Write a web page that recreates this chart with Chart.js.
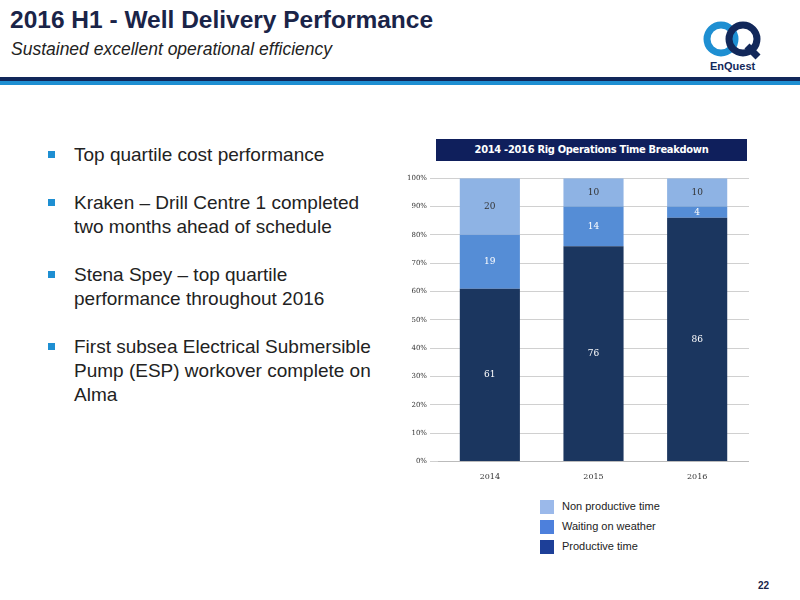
<!DOCTYPE html>
<html>
<head>
<meta charset="utf-8">
<script src="https://cdn.jsdelivr.net/npm/chart.js@4"></script>
<style>
  body { margin: 0; width: 800px; height: 600px; position: relative; background: #fff; font-family: "Liberation Sans", Arial, sans-serif; overflow: hidden; }
  .abs { position: absolute; }
  h1 { position: absolute; left: 10px; top: 6px; margin: 0; font-size: 24.5px; font-weight: bold; color: #1a2448; }
  .sub { left: 11px; top: 39px; font-size: 17.5px; font-style: italic; color: #222; }
  .bar1 { left: 0; top: 77px; width: 800px; height: 4px; background: #12285a; }
  .bar2 { left: 0; top: 81px; width: 800px; height: 4px; background: #1e8fd2; }
  ul { position: absolute; left: 48px; top: 143px; margin: 0; padding: 0; list-style: none; font-size: 19px; color: #222; width: 335px; }
  li { position: relative; margin-bottom: 24px; line-height: 24px; padding-left: 26px; }
  li::before { content: ""; position: absolute; left: 0; top: 8px; width: 7px; height: 7px; background: #1e8fd2; }
  .ctitle { left: 436px; top: 139px; width: 311px; height: 22px; background: #0f1f5c; color: #fff; font-family: "DejaVu Sans Condensed", sans-serif; font-weight: bold; font-size: 11px; text-align: center; line-height: 22px; letter-spacing: -0.3px; }
  .leg { left: 540px; font-size: 11px; color: #222; }
  .leg span { display: inline-block; width: 14px; height: 14px; vertical-align: middle; margin-right: 8px; }
  .pg { left: 758px; top: 580px; font-size: 10px; font-weight: bold; color: #1a2448; }
  #wrap { position: absolute; left: 404px; top: 171px; width: 345px; height: 314px; }
</style>
</head>
<body>
<h1>2016 H1 - Well Delivery Performance</h1>
<div class="abs sub">Sustained excellent operational efficiency</div>
<div class="abs bar1"></div><div class="abs bar2"></div>
<svg class="abs" style="left:700px;top:20px" width="72" height="52">
  <circle cx="21" cy="19" r="14" fill="none" stroke="#1e8fd2" stroke-width="7"/>
  <circle cx="43" cy="19" r="14" fill="none" stroke="#12285a" stroke-width="7"/>
  <line x1="47" y1="26" x2="58" y2="37" stroke="#12285a" stroke-width="7"/>
  <text x="10" y="50" font-size="11" font-weight="bold" fill="#12285a" font-family="Liberation Sans">EnQuest</text>
</svg>
<ul>
  <li>Top quartile cost performance</li>
  <li>Kraken – Drill Centre 1 completed two months ahead of schedule</li>
  <li>Stena Spey – top quartile performance throughout 2016</li>
  <li>First subsea Electrical Submersible Pump (ESP) workover complete on Alma</li>
</ul>
<div class="abs ctitle">2014 -2016 Rig Operations Time Breakdown</div>
<div id="wrap"><canvas id="c"></canvas></div>
<div class="abs leg" style="top:500px"><span style="background:#9bb9ea"></span>Non productive time</div>
<div class="abs leg" style="top:520px"><span style="background:#4d80dc"></span>Waiting on weather</div>
<div class="abs leg" style="top:540px"><span style="background:#1d3f98"></span>Productive time</div>
<div class="abs pg">22</div>
<script>
const years = ["2014", "2015", "2016"];
const productive = [61, 76, 86];
const weather = [19, 14, 4];
const nonProductive = [20, 10, 10];
const yTicks = [0, 10, 20, 30, 40, 50, 60, 70, 80, 90, 100];

// draws the segment value in the middle of each bar piece
const barLabels = {
  id: "barLabels",
  afterDatasetsDraw(chart) {
    const ctx = chart.ctx;
    ctx.save();
    ctx.font = "9px 'DejaVu Serif'";
    ctx.textAlign = "center";
    ctx.textBaseline = "middle";
    chart.data.datasets.forEach((ds, i) => {
      chart.getDatasetMeta(i).data.forEach((bar, j) => {
        ctx.fillStyle = i === 2 ? "#333" : "#fff";
        ctx.fillText(ds.data[j], bar.x, (bar.y + bar.base) / 2);
      });
    });
    ctx.restore();
  },
};

new Chart(document.getElementById("c"), {
  type: "bar",
  data: {
    labels: years,
    datasets: [
      { label: "Productive time", data: productive, backgroundColor: "#1b365f" },
      { label: "Waiting on weather", data: weather, backgroundColor: "#558dd6" },
      { label: "Non productive time", data: nonProductive, backgroundColor: "#8eb3e4" },
    ],
  },
  options: {
    responsive: true,
    maintainAspectRatio: false,
    animation: false,
    plugins: { legend: { display: false }, tooltip: { enabled: false } },
    datasets: { bar: { categoryPercentage: 1, barPercentage: 0.58 } },
    scales: {
      x: {
        stacked: true,
        grid: { display: false },
        border: { color: "#bbb" },
        ticks: { font: { size: 8, family: "DejaVu Serif" }, color: "#333" },
      },
      y: {
        stacked: true,
        min: 0,
        max: 100,
        afterBuildTicks: (axis) => { axis.ticks = yTicks.map((v) => ({ value: v })); },
        grid: { color: "#d0d0d0" },
        border: { display: false },
        ticks: { font: { size: 7, family: "DejaVu Serif" }, color: "#333", callback: (v) => v + "%" },
      },
    },
  },
  plugins: [barLabels],
});
</script>
</body>
</html>
